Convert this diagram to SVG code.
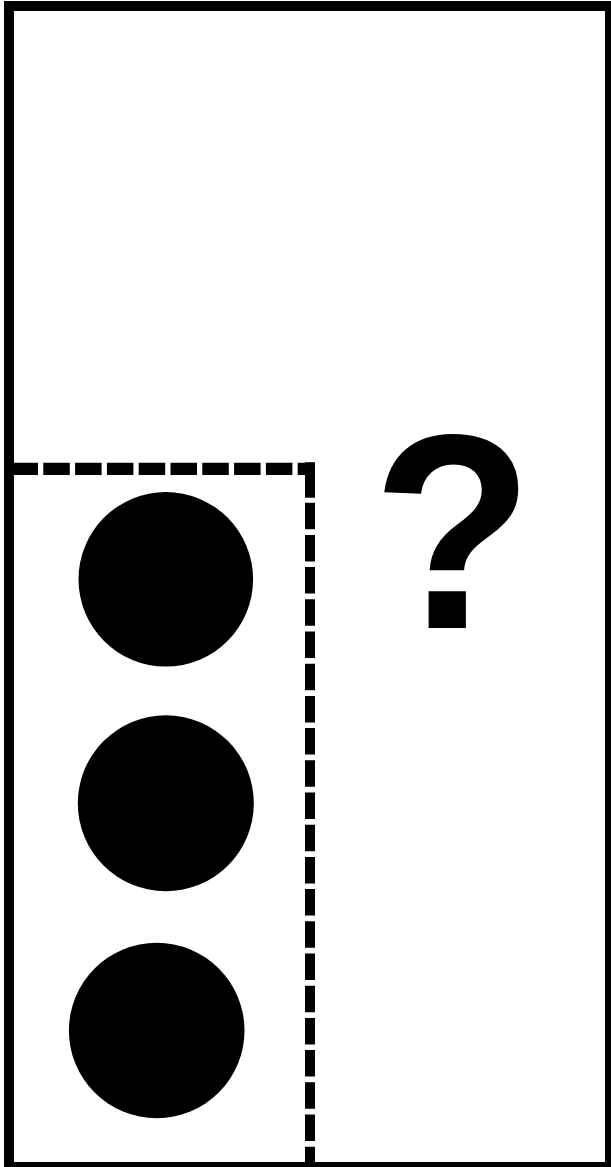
<svg xmlns="http://www.w3.org/2000/svg" width="611" height="1167" viewBox="0 0 611 1167">
  <style>
    .frame { fill: none; stroke: #000; stroke-width: 10; }
    .dash { fill: none; stroke: #000; }
    .dot { fill: #000; }
    .q { font-family: "Liberation Sans", Arial, sans-serif; font-weight: bold; font-size: 278px; fill: #000; }
  </style>
  <rect width="611" height="1167" fill="#fff"/>
  <g id="frame">
    <rect class="frame" x="9" y="6" width="601" height="1161"/>
  </g>
  <g id="region">
    <line class="dash" x1="11.5" y1="468.8" x2="315" y2="468.8" stroke-width="12.3" stroke-dasharray="26.5 5.3"/>
    <line class="dash" x1="310" y1="462.3" x2="310" y2="497.7" stroke-width="10"/>
    <line class="dash" x1="310" y1="502.7" x2="310" y2="1167" stroke-width="10" stroke-dasharray="26.5 5.7"/>
  </g>
  <g id="dots">
    <circle class="dot" cx="165.8" cy="579.3" r="87.3"/>
    <circle class="dot" cx="165.8" cy="803.3" r="88"/>
    <circle class="dot" cx="156.7" cy="1030.5" r="87.8"/>
  </g>
  <g id="question">
    <text class="q" transform="translate(452.8,628) scale(0.95,1)" x="0" y="0" text-anchor="middle">?</text>
  </g>
</svg>
